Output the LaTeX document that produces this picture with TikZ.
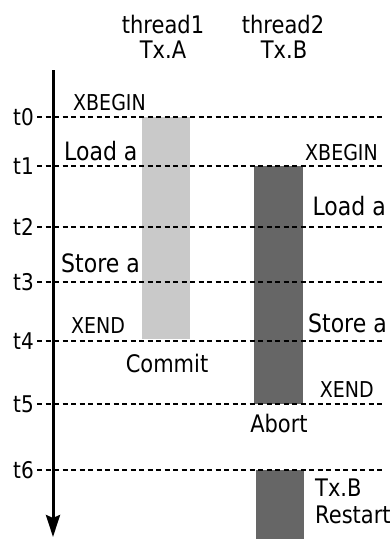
\documentclass[tikz,border=0pt]{standalone}
\usepackage{graphicx}
\usepackage{fontspec}
\setmainfont{DejaVu Sans}
\usetikzlibrary{arrows.meta}
\usetikzlibrary{positioning}

\newcommand{\tall}[1]{\scalebox{1}[1.15]{#1}}

\tikzset{
  big/.style={font=\fontsize{22}{25}\selectfont,inner sep=0pt},
  mid/.style={font=\fontsize{21}{24}\selectfont,inner sep=0pt},
  small/.style={font=\fontsize{19}{22}\selectfont,inner sep=0pt},
  tick/.style={font=\fontsize{20}{23}\selectfont,inner sep=0pt,anchor=east},
  grid/.style={line width=2.1pt,dash pattern=on 5pt off 3.5pt,shorten <=3pt},
  axis/.style={line width=3pt,-{Stealth[length=22pt,width=14pt,inset=3pt]}},
}

\begin{document}
\begin{tikzpicture}[x=1pt,y=-1pt]
      \useasboundingbox (0,0) rectangle (390,539);
      % transactions
      \fill[black!21] (142,117) rectangle (190,339);
      \fill[black!60] (254,166) rectangle (303,404);
      \fill[black!60] (256,470) rectangle (304,539);
      % time steps
      \foreach \y [count=\i from 0] in {117,166,227,282,341,404,470} {
        \node[tick] (t\i) at (34,\y) {\tall{t\i}};
        \coordinate (e\i) at (382,\y);
        \draw[grid] (t\i.east) -- (e\i);
      }
      \coordinate (top) at (53,70);
      \coordinate (bot) at (53,537);
      \draw[axis] (top) -- (bot);
      % threads
      \node[mid,anchor=base] (th1) at (163,33) {\tall{thread1}};
      \node[mid,anchor=base] (txa) at (163,58) {\tall{Tx.A}};
      \node[mid,anchor=base] (th2) at (283,33) {\tall{thread2}};
      \node[mid,anchor=base] (txb) at (284,58) {\tall{Tx.B}};
      % thread1 events
      \node[small,anchor=base west] (beginA) at (73,110) {\tall{XBEGIN}};
      \node[big,anchor=base west] (loadA) at (64,160) {\tall{Load a}};
      \node[big,anchor=base west] (storeA) at (61,272) {\tall{Store a}};
      \node[small,anchor=base west] (endA) at (71,333) {\tall{XEND}};
      \node[mid] (commit) at (167,363) {\tall{Commit}};
      % thread2 events
      \node[small,anchor=base east] (beginB) at (378,160) {\tall{XBEGIN}};
      \node[big,anchor=base east] (loadB) at (386,215) {\tall{Load a}};
      \node[big,anchor=base east] (storeB) at (387,332) {\tall{Store a}};
      \node[small,anchor=base east] (endB) at (374,397) {\tall{XEND}};
      \node[mid] (abort) at (279,423) {\tall{Abort}};
      \node[mid,anchor=base west] (txb2) at (315,496) {\tall{Tx.B}};
      \node[mid,anchor=base west] (restart) at (315,523) {\tall{Restart}};
    \end{tikzpicture}
\end{document}
